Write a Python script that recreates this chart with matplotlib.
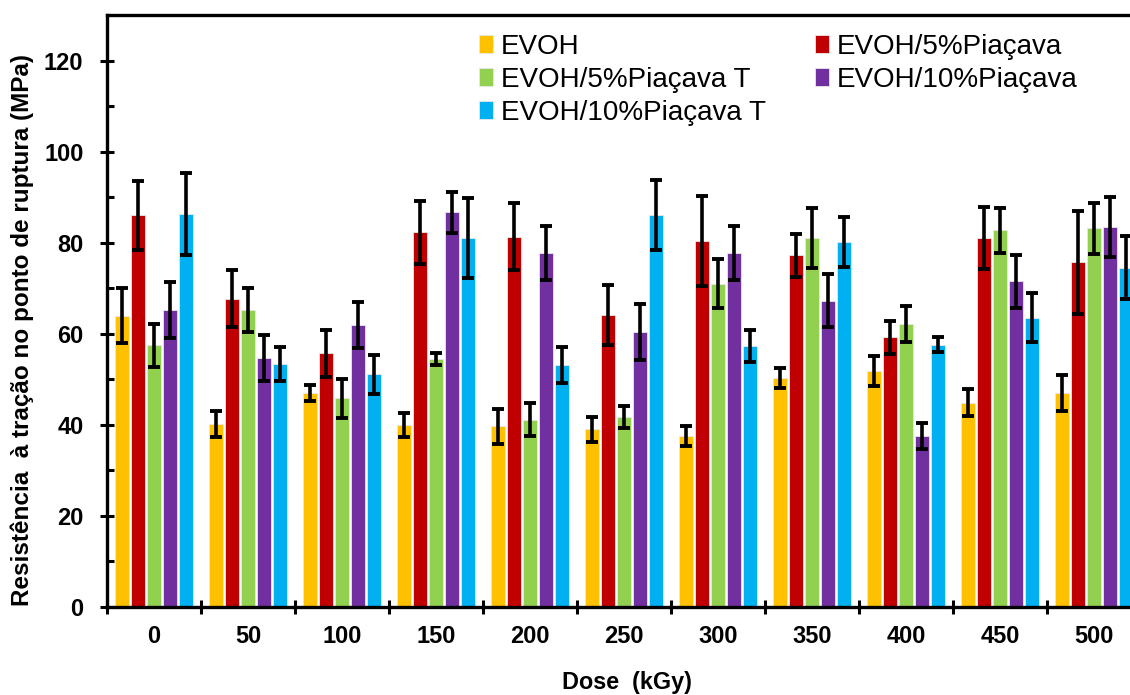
import numpy as np
import matplotlib
matplotlib.use("Agg")
import matplotlib.pyplot as plt
from matplotlib.ticker import MultipleLocator, FixedLocator, NullFormatter

plt.rcParams['font.family'] = ['Liberation Sans', 'DejaVu Sans']

doses = ["0", "50", "100", "150", "200", "250", "300", "350", "400", "450", "500"]
series_names = ["EVOH", "EVOH/5%Piaçava", "EVOH/5%Piaçava T",
                "EVOH/10%Piaçava", "EVOH/10%Piaçava T"]
colors = ["#FFC000", "#C00000", "#92D050", "#7030A0", "#00B0F0"]

evoh = [64.0, 40.2, 47.0, 40.0, 39.7, 39.0, 37.6, 50.3, 51.9, 44.9, 47.0]
evoh_err = [6.0, 2.8, 1.7, 2.6, 3.8, 2.8, 2.2, 2.2, 3.3, 2.9, 3.9]

p5 = [86.0, 67.7, 55.7, 82.3, 81.3, 64.1, 80.3, 77.2, 59.2, 81.1, 75.7]
p5_err = [7.6, 6.3, 5.2, 6.9, 7.4, 6.5, 9.9, 4.7, 3.7, 6.8, 11.3]

p5t = [57.5, 65.2, 45.8, 54.5, 41.1, 41.7, 71.0, 81.1, 62.2, 82.7, 83.2]
p5t_err = [4.7, 4.9, 4.3, 1.3, 3.6, 2.4, 5.4, 6.6, 4.0, 4.9, 5.6]

p10 = [65.2, 54.7, 61.9, 86.7, 77.7, 60.4, 77.7, 67.3, 37.6, 71.5, 83.5]
p10_err = [6.1, 5.1, 5.1, 4.5, 5.9, 6.1, 6.0, 5.9, 2.8, 5.8, 6.6]

p10t = [86.3, 53.4, 51.1, 81.0, 53.2, 86.0, 57.3, 80.2, 57.6, 63.5, 74.5]
p10t_err = [9.0, 3.8, 4.3, 8.8, 4.0, 7.7, 3.5, 5.5, 1.6, 5.4, 6.9]

values = [evoh, p5, p5t, p10, p10t]
errors = [evoh_err, p5_err, p5t_err, p10_err, p10t_err]

fig = plt.figure(figsize=(11.3, 6.95), dpi=100)
ax = fig.add_axes([107 / 1130, 88 / 695, 1034 / 1130, 592 / 695])

x = np.arange(len(doses))
pitch = 0.17
width = 0.152
handles = []
for i, (vals, errs, col, name) in enumerate(zip(values, errors, colors, series_names)):
    pos = x + (i - 2) * pitch
    b = ax.bar(pos, vals, width=width, color=col, edgecolor="#e8e8e8",
               linewidth=0.6, label=name, zorder=2)
    ax.errorbar(pos, vals, yerr=errs, fmt="none", ecolor="black",
                elinewidth=2.6, capsize=4.5, capthick=2.8, zorder=3)
    handles.append(b)

ax.set_xlim(-0.5, len(doses) - 0.5)
ax.set_ylim(0, 130)

# group boundaries carry the crossing tick marks, labels sit at group centres
ax.xaxis.set_major_locator(FixedLocator(np.arange(-0.5, len(doses), 1.0)))
ax.xaxis.set_major_formatter(NullFormatter())
ax.xaxis.set_minor_locator(FixedLocator(x))
ax.set_xticklabels(doses, minor=True)
ax.tick_params(axis="x", which="major", direction="inout", length=10, width=2.2)
ax.tick_params(axis="x", which="minor", length=0, pad=13, labelsize=17)

ax.yaxis.set_major_locator(MultipleLocator(20))
ax.yaxis.set_minor_locator(MultipleLocator(10))
ax.set_yticks(np.arange(0, 121, 20))
ax.tick_params(axis="y", which="major", direction="inout", length=10, width=2.2,
               pad=12, labelsize=17)
ax.tick_params(axis="y", which="minor", direction="in", length=5, width=2.2)
for lbl in ax.get_xticklabels(minor=True) + ax.get_yticklabels():
    lbl.set_fontweight("bold")

for side in ["left", "bottom", "top", "right"]:
    ax.spines[side].set_linewidth(2.4)

fig.text(22 / 1130, (695 - 330) / 695,
         "Resistência  à tração no ponto de ruptura (MPa)",
         rotation=90, ha="center", va="center", fontsize=17.5, fontweight="bold")
fig.text(627 / 1130, (695 - 683) / 695, "Dose  (kGy)",
         ha="center", va="center", fontsize=16.8, fontweight="bold")

order = [0, 2, 4, 1, 3]
leg = ax.legend([handles[k] for k in order], [series_names[k] for k in order],
                ncol=2, frameon=False, loc="upper left",
                bbox_to_anchor=(479 / 1130, (695 - 34) / 695),
                bbox_transform=fig.transFigure,
                fontsize=20, handlelength=0.5, handleheight=0.6,
                handletextpad=0.3, labelspacing=0.25, columnspacing=1.75,
                borderaxespad=0, borderpad=0)

fig.savefig("out.png", dpi=100)
